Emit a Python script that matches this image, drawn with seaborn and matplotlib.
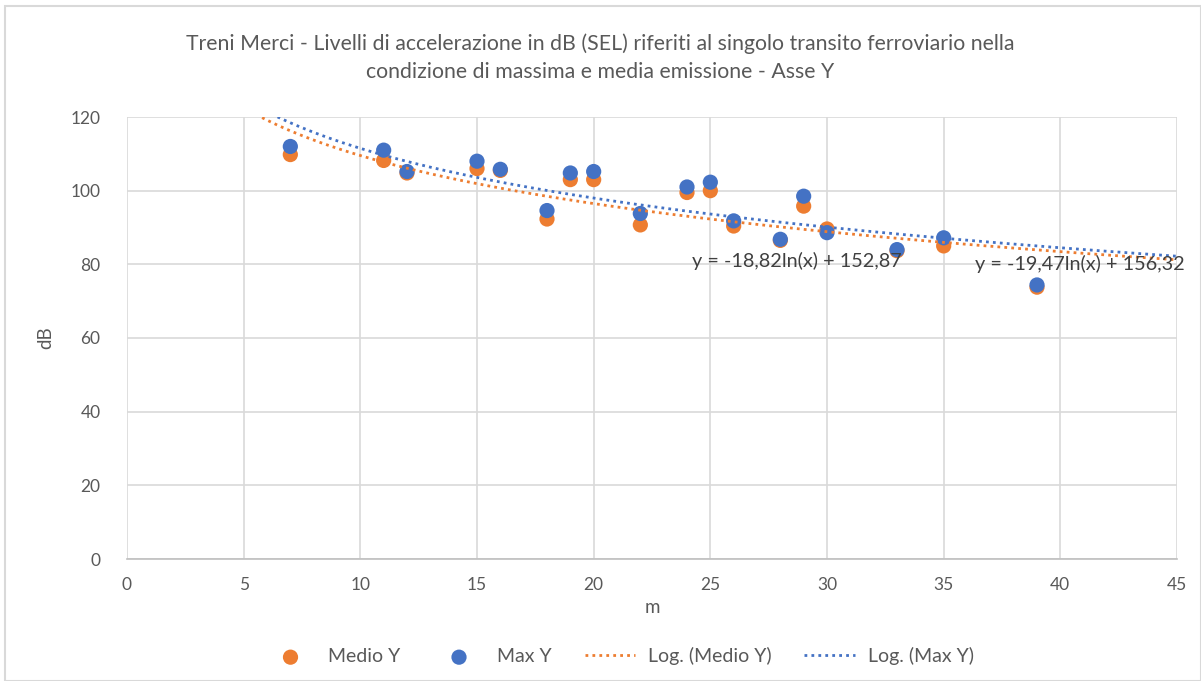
import numpy as np
import pandas as pd
import matplotlib
matplotlib.use("Agg")
import matplotlib.pyplot as plt
import seaborn as sns

# distances (m) and SEL levels (dB)
distance = [7, 11, 12, 15, 16, 18, 19, 20, 22, 24, 25, 26, 28, 29, 30, 33, 35, 39]
medio_y = [109.8, 108.2, 104.8, 106.0, 105.5, 92.3, 103.0, 103.0, 90.7, 99.5, 100.0, 90.4, 86.5, 95.8, 89.6, 83.7, 85.0, 73.8]
max_y = [112.0, 111.0, 105.2, 108.0, 105.8, 94.6, 104.8, 105.2, 93.8, 101.0, 102.3, 91.8, 86.8, 98.5, 88.6, 84.0, 87.2, 74.4]

# Excel log trendline coefficients (y = a*ln(x) + b)
medio_a, medio_b = -18.82, 152.87
max_a, max_b = -19.47, 156.32

ORANGE = "#ED7D31"
BLUE = "#4472C4"
TEXT = "#595959"

sns.set_theme(style="whitegrid")
plt.rcParams["font.family"] = ["Lato", "DejaVu Sans"]

fig = plt.figure(figsize=(12.01, 6.81), dpi=100)
ax = fig.add_axes([127 / 1201, 1 - 559 / 681, 1050 / 1201, 442 / 681])

pts = pd.DataFrame({"m": distance, "Medio Y": medio_y, "Max Y": max_y})
sns.scatterplot(data=pts, x="m", y="Medio Y", color=ORANGE, s=120, edgecolor="none",
                label="Medio Y", ax=ax, zorder=3)
sns.scatterplot(data=pts, x="m", y="Max Y", color=BLUE, s=120, edgecolor="none",
                label="Max Y", ax=ax, zorder=4)

xs = np.linspace(1, 45, 300)
trend = pd.DataFrame({"x": xs,
                      "medio": medio_a * np.log(xs) + medio_b,
                      "max": max_a * np.log(xs) + max_b})
sns.lineplot(data=trend, x="x", y="medio", color=ORANGE, lw=2, ls=(0, (1, 1.5)),
             label="Log. (Medio Y)", ax=ax, zorder=5)
sns.lineplot(data=trend, x="x", y="max", color=BLUE, lw=2, ls=(0, (1, 1.5)),
             label="Log. (Max Y)", ax=ax, zorder=5)

ax.text(24.2, 80.9, "y = -18,82ln(x) + 152,87", fontsize=14.3, color="#404040",
        va="center", ha="left", zorder=6)
ax.text(36.35, 80.1, "y = -19,47ln(x) + 156,32", fontsize=14.3, color="#404040",
        va="center", ha="left", zorder=6)

ax.set_xlim(0, 45)
ax.set_ylim(0, 120)
ax.set_xticks(range(0, 46, 5))
ax.set_yticks(range(0, 121, 20))
ax.grid(True, color="#d9d9d9", lw=1.2)
for side in ["top", "right", "left"]:
    ax.spines[side].set_visible(False)
ax.spines["bottom"].set_color("#bfbfbf")
ax.spines["bottom"].set_linewidth(1.2)
ax.tick_params(axis="y", colors=TEXT, labelsize=12.5, length=0, pad=19)
ax.tick_params(axis="x", colors=TEXT, labelsize=12.5, length=0, pad=13)
ax.set_xlabel("m", fontsize=13.5, color=TEXT, labelpad=4)
ax.set_ylabel("dB", fontsize=13.5, color=TEXT, labelpad=12)

ax.legend(loc="upper center", bbox_to_anchor=(0.469, -0.16), ncol=4, frameon=False,
          fontsize=14, labelcolor=TEXT, handlelength=2.6, columnspacing=1.7,
          markerscale=1.0, handletextpad=0.65)

fig.text(0.5, 1 - 44 / 681, "Treni Merci - Livelli di accelerazione in dB (SEL) riferiti al singolo transito ferroviario nella",
         ha="center", va="center", fontsize=15.3, color=TEXT)
fig.text(0.5, 1 - 72 / 681, "condizione di massima e media emissione - Asse Y",
         ha="center", va="center", fontsize=15.3, color=TEXT)

fig.patches.append(plt.Rectangle((5 / 1201, 0), 1 - 5 / 1201, 1 - 6 / 681, transform=fig.transFigure,
                                 fill=False, edgecolor="#d9d9d9", lw=1.5))

fig.savefig("out.png", dpi=100, facecolor="white")
